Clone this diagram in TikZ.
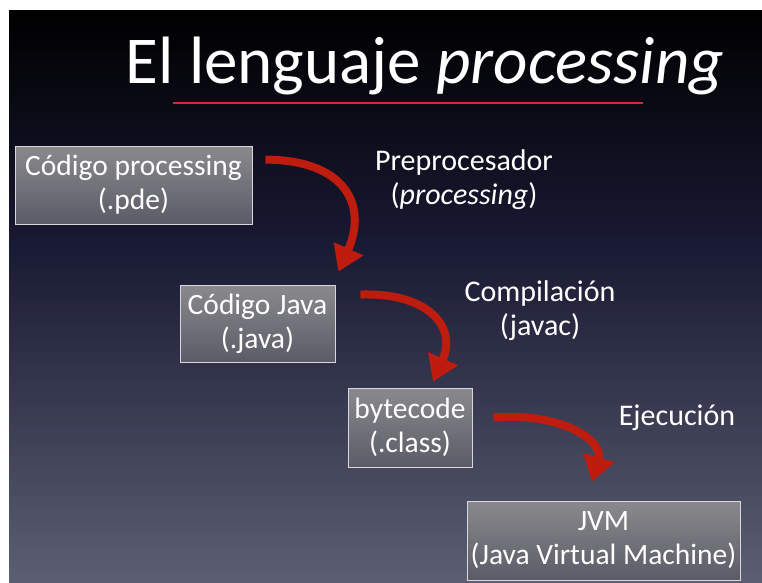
\documentclass[tikz,border=0pt]{standalone}
\usepackage{fontspec}
\setmainfont{Carlito}
\usetikzlibrary{arrows.meta,calc}

\definecolor{bgtop}{RGB}{0,0,0}
\definecolor{bgmid}{RGB}{24,25,50}
\definecolor{bgbot}{RGB}{92,94,114}
\definecolor{boxtop}{RGB}{138,138,141}
\definecolor{boxbot}{RGB}{90,91,103}
\definecolor{boxline}{RGB}{215,215,220}
\definecolor{arrowred}{RGB}{190,28,14}
\definecolor{rulered}{RGB}{214,42,52}

\tikzset{
  stage/.style={shade, top color=boxtop, bottom color=boxbot, draw=boxline,
    line width=0.8pt, text=white, align=center, inner sep=0pt,
    font=\fontsize{29.5}{34}\selectfont},
  steplabel/.style={text=white, align=center, inner sep=0pt,
    font=\fontsize{30}{34}\selectfont},
  flow/.style={draw=arrowred, line width=8pt,
    -{Triangle[width=31pt,length=25pt]}},
}

\begin{document}
\begin{tikzpicture}[x=1pt,y=-1pt]
  % page and background
  \fill[white] (0,0) rectangle (762,582);
  \useasboundingbox (0,0) rectangle (762,582);
  \shade[top color=bgtop, bottom color=bgmid] (9,10) rectangle (762,240.5);
  \shade[top color=bgmid, bottom color=bgbot] (9,240) rectangle (762,582);

  % title
  \node[text=white, anchor=base, inner sep=0pt, font=\fontsize{67}{67}\selectfont]
    (title) at (425,83) {El lenguaje \textit{processing}};
  \draw[rulered, line width=2pt] (173,103) -- (643,103);

  % stages
  \node[stage, minimum width=237pt, minimum height=78pt] (b1) at (133.5,185)
    {Código processing\\(.pde)};
  \node[stage, minimum width=155pt, minimum height=77pt] (b2) at (257.5,323.5)
    {Código Java\\(.java)};
  \node[stage, minimum width=124pt, minimum height=79pt] (b3) at (410,427.5)
    {bytecode\\(.class)};
  \node[stage, minimum width=273pt, minimum height=79pt] (b4) at (603.5,540.5)
    {JVM\\(Java Virtual Machine)};

  % step labels
  \node[steplabel] (l1) at (464,180) {Preprocesador\\(\textit{processing})};
  \node[steplabel] (l2) at (540,311) {Compilación\\(javac)};
  \node[steplabel] (l3) at (677,418) {Ejecución};

  % curved arrows between stages
  \coordinate (a1s) at ($(b1.north east)+(13,14)$);
  \coordinate (a1e) at ($(b2.north east)+(3,-13)$);
  \coordinate (a2s) at ($(b2.north east)+(25,10)$);
  \coordinate (a2e) at ($(b3.north)+(23,-6)$);
  \coordinate (a3s) at ($(b3.east)+(21,-10)$);
  \coordinate (a3e) at ($(b4.north)+(-11.5,-19)$);

  \draw[flow] (a1s) .. controls (345,160) and (368,205) .. (a1e);
  \draw[flow] (a2s) .. controls (425,292) and (458,325) .. (a2e);
  \draw[flow] (a3s) .. controls (560,412) and (604,440) .. (a3e);
\end{tikzpicture}
\end{document}
